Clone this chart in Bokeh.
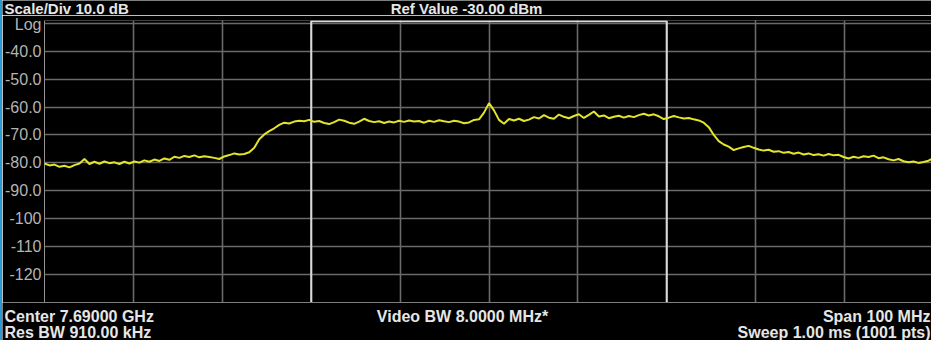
import numpy as np
from bokeh.plotting import figure
from bokeh.layouts import column
from bokeh.models import Range1d, FixedTicker, Label, Grid
from bokeh.embed import file_html
from bokeh.resources import INLINE

# ---- data ----
f_start_ghz = 7.64
f_stop_ghz = 7.74
level_dbm = [
    -80.2, -80.9, -80.6, -81.4, -81.0, -81.6, -80.8, -80.2, -78.6, -80.4,
    -79.6, -80.3, -79.5, -80.1, -79.8, -80.4, -79.6, -80.2, -79.5, -79.9,
    -79.1, -79.6, -78.8, -79.3, -78.4, -78.9, -77.8, -78.2, -77.5, -77.9,
    -77.3, -78.0, -77.6, -77.9, -78.2, -78.6, -77.7, -77.2, -76.6, -77.0,
    -76.8, -76.2, -74.6, -71.5, -69.8, -68.6, -67.6, -66.4, -65.6, -65.9,
    -65.2, -64.9, -65.1, -64.6, -65.3, -65.0, -65.7, -66.1, -65.4, -64.5,
    -64.9, -65.6, -66.0, -65.2, -64.2, -65.0, -65.4, -65.1, -65.7, -65.2,
    -65.5, -64.9, -65.3, -64.8, -65.2, -65.0, -65.6, -64.9, -65.3, -64.7,
    -65.1, -65.4, -64.9, -65.2, -65.8, -65.5, -64.6, -64.4, -62.0, -58.6,
    -61.2, -64.6, -66.0, -64.3, -64.8, -64.2, -65.0, -64.5, -63.6, -64.1,
    -62.9, -63.8, -64.2, -62.7, -63.5, -64.0, -63.2, -62.6, -63.9, -62.8,
    -61.6, -63.4, -63.0, -64.0, -63.5, -63.1, -63.8, -63.2, -63.6, -62.9,
    -62.4, -63.0, -62.6, -63.3, -64.3, -63.8, -63.2, -63.7, -64.1, -63.9,
    -64.4, -64.8, -65.6, -67.2, -70.0, -72.2, -73.4, -74.2, -75.4, -74.8,
    -74.3, -73.9, -74.6, -75.2, -75.6, -75.3, -76.0, -75.8, -76.4, -76.1,
    -76.7, -76.3, -77.0, -76.6, -77.2, -76.9, -77.4, -76.8, -77.3, -77.1,
    -77.9, -78.4, -77.8, -78.2, -77.6, -77.9, -77.4, -78.3, -78.0, -78.7,
    -79.1, -78.6, -79.4, -79.8, -79.5, -80.0, -79.7, -79.2, -78.3,
]
freq_ghz = np.linspace(f_start_ghz, f_stop_ghz, len(level_dbm))

x_grid_ticks = [7.64, 7.65, 7.66, 7.67, 7.68, 7.69, 7.70, 7.71, 7.72, 7.73, 7.74]
y_grid_ticks = [-30, -40, -50, -60, -70, -80, -90, -100, -110, -120, -130]
y_label_ticks = [-30, -40, -50, -60, -70, -80, -90, -100, -110, -120]
y_label_text = ["Log", "-40.0", "-50.0", "-60.0", "-70.0", "-80.0", "-90.0",
                "-100", "-110", "-120"]

bracket_x = [7.67, 7.67, 7.71, 7.71]
bracket_y = [-130, -29.3, -29.3, -130]

header_left = "Scale/Div 10.0 dB"
header_mid = "Ref Value -30.00 dBm"
foot_left_1 = "Center 7.69000 GHz"
foot_left_2 = "Res BW 910.00 kHz"
foot_mid = "Video BW 8.0000 MHz*"
foot_right_1 = "Span 100 MHz"
foot_right_2 = "Sweep 1.00 ms (1001 pts)"

# ---- layout (page pixels) ----
W = 931
PAGE_X0 = 10            # canvas left on the page (8px margin + 2px border)
HEAD_TOP, HEAD_BOT = 8, 23
MAIN_TOP, FRAME_TOP, FRAME_BOT = 23, 28, 310
FOOT_TOP, FOOT_BOT = 310, 348
B_LEFT = 42
Y_TOP, Y_BOT = -29.0, -130.0
BORDER = {"border-left": "2px solid #2a9ad6"}
GRID_COLOR = "#6a6a6a"


def txt(size):
    return dict(text_baseline="middle", text_font="Liberation Sans",
                text_font_style="bold", text_font_size=size, text_color="#e6e6e6")


def strip(top, bot):
    s = figure(width=W, height=bot - top, output_backend="svg", toolbar_location=None,
               x_range=Range1d(PAGE_X0, PAGE_X0 + W), y_range=Range1d(bot, top),
               x_axis_location=None, y_axis_location=None,
               min_border_left=0, min_border_right=0, min_border_top=0,
               min_border_bottom=0,
               background_fill_color="black", border_fill_color="black")
    s.frame_align = False
    s.outline_line_color = None
    s.grid.visible = False
    s.styles = BORDER
    return s


# header
head = strip(HEAD_TOP, HEAD_BOT)
head.add_layout(Label(x=12, y=15.5, text=header_left, text_align="left", **txt("15px")))
head.add_layout(Label(x=474, y=15.5, text=header_mid, text_align="center", **txt("15px")))

# main trace panel
p = figure(width=W, height=FRAME_BOT - MAIN_TOP, output_backend="svg",
           toolbar_location=None, x_axis_location=None,
           x_range=Range1d(f_start_ghz, f_stop_ghz), y_range=Range1d(Y_BOT, Y_TOP),
           min_border_left=B_LEFT, min_border_right=0,
           min_border_top=FRAME_TOP - MAIN_TOP, min_border_bottom=0,
           background_fill_color="black", border_fill_color="black")
p.frame_align = False
p.styles = BORDER
p.outline_line_color = None
p.add_layout(Grid(dimension=0, ticker=FixedTicker(ticks=x_grid_ticks),
                  grid_line_color=GRID_COLOR, grid_line_width=1.6))
p.ygrid.ticker = FixedTicker(ticks=y_grid_ticks)
p.ygrid.grid_line_color = GRID_COLOR
p.ygrid.grid_line_width = 1.6

ax = p.yaxis[0]
ax.ticker = FixedTicker(ticks=y_label_ticks)
ax.major_label_overrides = {t: s for t, s in zip(y_label_ticks, y_label_text)}
ax.axis_line_color = None
ax.major_tick_line_color = None
ax.minor_tick_line_color = None
ax.major_tick_out = 0
ax.major_label_standoff = 3
ax.major_label_text_color = "#b4b4b4"
ax.major_label_text_font = "Liberation Sans"
ax.major_label_text_font_size = "16px"

p.line(bracket_x, bracket_y, line_color="#d9d9d9", line_width=2)
p.line(freq_ghz, level_dbm, line_color="#e4e42a", line_width=2)

# footer
foot = strip(FOOT_TOP, FOOT_BOT)
foot.add_layout(Label(x=12, y=324, text=foot_left_1, text_align="left", **txt("16px")))
foot.add_layout(Label(x=470, y=324, text=foot_mid, text_align="center", **txt("16px")))
foot.add_layout(Label(x=938, y=324, text=foot_right_1, text_align="right", **txt("16px")))
foot.add_layout(Label(x=12, y=340, text=foot_left_2, text_align="left", **txt("16px")))
foot.add_layout(Label(x=938, y=340, text=foot_right_2, text_align="right", **txt("16px")))

page = column(head, p, foot, spacing=0)
open("out.html", "w").write(file_html(page, INLINE))
